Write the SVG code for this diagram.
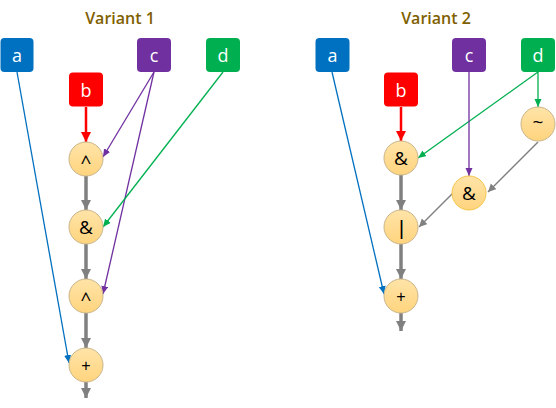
<svg xmlns="http://www.w3.org/2000/svg" width="556" height="408" viewBox="0 0 556 408">
<defs>
<linearGradient id="g" x1="0" y1="0" x2="0" y2="1"><stop offset="0" stop-color="#FFE4A8"/><stop offset="1" stop-color="#FFD47E"/></linearGradient>
<marker id="mG" markerUnits="userSpaceOnUse" markerWidth="12" markerHeight="12" refX="10" refY="5" orient="auto"><path d="M0,0 L10,5 L0,10 Z" fill="#808080"/></marker>
<marker id="mg" markerUnits="userSpaceOnUse" markerWidth="10" markerHeight="10" refX="8" refY="4" orient="auto"><path d="M0,0 L8,4 L0,8 Z" fill="#808080"/></marker>
<marker id="mR" markerUnits="userSpaceOnUse" markerWidth="12" markerHeight="12" refX="10" refY="5" orient="auto"><path d="M0,0 L10,5 L0,10 Z" fill="#FF0000"/></marker>
<marker id="mB" markerUnits="userSpaceOnUse" markerWidth="10" markerHeight="10" refX="8" refY="3.5" orient="auto"><path d="M0,0 L8,3.5 L0,7 Z" fill="#0070C0"/></marker>
<marker id="mP" markerUnits="userSpaceOnUse" markerWidth="10" markerHeight="10" refX="8" refY="3.5" orient="auto"><path d="M0,0 L8,3.5 L0,7 Z" fill="#7030A0"/></marker>
<marker id="mN" markerUnits="userSpaceOnUse" markerWidth="10" markerHeight="10" refX="8" refY="3.5" orient="auto"><path d="M0,0 L8,3.5 L0,7 Z" fill="#00B050"/></marker>
</defs>
<style>
.title{font-family:"Open Sans","Liberation Sans",sans-serif;font-size:16px;font-weight:600;fill:#7F6000;text-anchor:middle}
.bl{font-family:"Open Sans","Liberation Sans",sans-serif;font-size:18px;fill:#fff;text-anchor:middle;dominant-baseline:central}
.op{font-family:"Open Sans","Liberation Sans",sans-serif;font-size:19px;fill:#000;text-anchor:middle;dominant-baseline:central}
.ops{font-family:"Liberation Sans",sans-serif;font-size:16px}
.bar{font-family:"Liberation Sans",sans-serif;font-size:21px}
.circ{fill:url(#g);stroke:#C9B58A;stroke-width:1}
.thick{stroke:#808080;stroke-width:3.5;fill:none;marker-end:url(#mG)}
.thin{stroke:#808080;stroke-width:1.5;fill:none;marker-end:url(#mg)}
.red{stroke:#FF0000;stroke-width:2.5;fill:none;marker-end:url(#mR)}
.blue{stroke:#0070C0;stroke-width:1.3;fill:none;marker-end:url(#mB)}
.pur{stroke:#7030A0;stroke-width:1.3;fill:none;marker-end:url(#mP)}
.grn{stroke:#00B050;stroke-width:1.3;fill:none;marker-end:url(#mN)}
</style>
<text class="title" x="120" y="24">Variant 1</text>
<text class="title" x="436" y="24">Variant 2</text>
<g id="connectors">
<line class="blue" x1="17" y1="72" x2="69" y2="363"/>
<line class="red" x1="86" y1="107" x2="86" y2="142"/>
<line class="pur" x1="154" y1="72" x2="103" y2="157"/>
<line class="pur" x1="154" y1="72" x2="103" y2="294"/>
<line class="grn" x1="223" y1="72" x2="103" y2="227"/>
<line class="thick" x1="86" y1="176" x2="86" y2="210"/>
<line class="thick" x1="86" y1="244" x2="86" y2="279"/>
<line class="thick" x1="86" y1="313" x2="86" y2="348"/>
<line class="thick" x1="86" y1="382" x2="86" y2="398"/>
<line class="blue" x1="332" y1="72" x2="384" y2="294"/>
<line class="red" x1="401" y1="107" x2="401" y2="141"/>
<line class="grn" x1="538" y1="72" x2="538" y2="107"/>
<line class="grn" x1="538" y1="72" x2="418" y2="158"/>
<line class="pur" x1="469" y1="72" x2="469" y2="176"/>
<line class="thin" x1="538" y1="142" x2="488" y2="192"/>
<line class="thin" x1="453" y1="193" x2="419" y2="227"/>
<line class="thick" x1="401" y1="175" x2="401" y2="210"/>
<line class="thick" x1="401" y1="244" x2="401" y2="279"/>
<line class="thick" x1="401" y1="313" x2="401" y2="331"/>
</g>
<g id="v1-a"><rect x="0.5" y="38" width="33" height="34" rx="4" fill="#0070C0"/><text class="bl" x="17" y="55">a</text></g>
<g id="v1-b"><rect x="69" y="72.5" width="34" height="34" rx="4" fill="#FF0000"/><text class="bl" x="86" y="89.5">b</text></g>
<g id="v1-c"><rect x="137" y="38" width="34" height="34" rx="4" fill="#7030A0"/><text class="bl" x="154" y="55">c</text></g>
<g id="v1-d"><rect x="206" y="38" width="34" height="34" rx="4" fill="#00B050"/><text class="bl" x="223" y="55">d</text></g>
<g id="v1-xor1"><circle class="circ" cx="86" cy="159" r="17"/><text class="op" x="86" y="162">^</text></g>
<g id="v1-and"><circle class="circ" cx="86" cy="227" r="17"/><text class="op" x="86" y="227">&amp;</text></g>
<g id="v1-xor2"><circle class="circ" cx="86" cy="296" r="17"/><text class="op" x="86" y="299">^</text></g>
<g id="v1-plus"><circle class="circ" cx="86" cy="365" r="17"/><text class="op ops" x="86" y="365">+</text></g>
<g id="v2-a"><rect x="315.5" y="38" width="34" height="34" rx="4" fill="#0070C0"/><text class="bl" x="332.5" y="55">a</text></g>
<g id="v2-b"><rect x="384" y="72.5" width="34" height="34" rx="4" fill="#FF0000"/><text class="bl" x="401" y="89.5">b</text></g>
<g id="v2-c"><rect x="452" y="38" width="34" height="34" rx="4" fill="#7030A0"/><text class="bl" x="469" y="55">c</text></g>
<g id="v2-d"><rect x="521" y="38" width="34" height="34" rx="4" fill="#00B050"/><text class="bl" x="538" y="55">d</text></g>
<g id="v2-not"><circle class="circ" cx="538" cy="124" r="17"/><text class="op" x="538" y="122">~</text></g>
<g id="v2-and1"><circle class="circ" cx="401" cy="158" r="17"/><text class="op" x="401" y="158">&amp;</text></g>
<g id="v2-and2"><circle class="circ" cx="469" cy="193" r="17" style="stroke:#F5C64A"/><text class="op" x="469" y="193">&amp;</text></g>
<g id="v2-or"><circle class="circ" cx="401" cy="227" r="17"/><text class="op bar" x="401.5" y="227">|</text></g>
<g id="v2-plus"><circle class="circ" cx="401" cy="296" r="17"/><text class="op ops" x="401" y="296">+</text></g>
</svg>
